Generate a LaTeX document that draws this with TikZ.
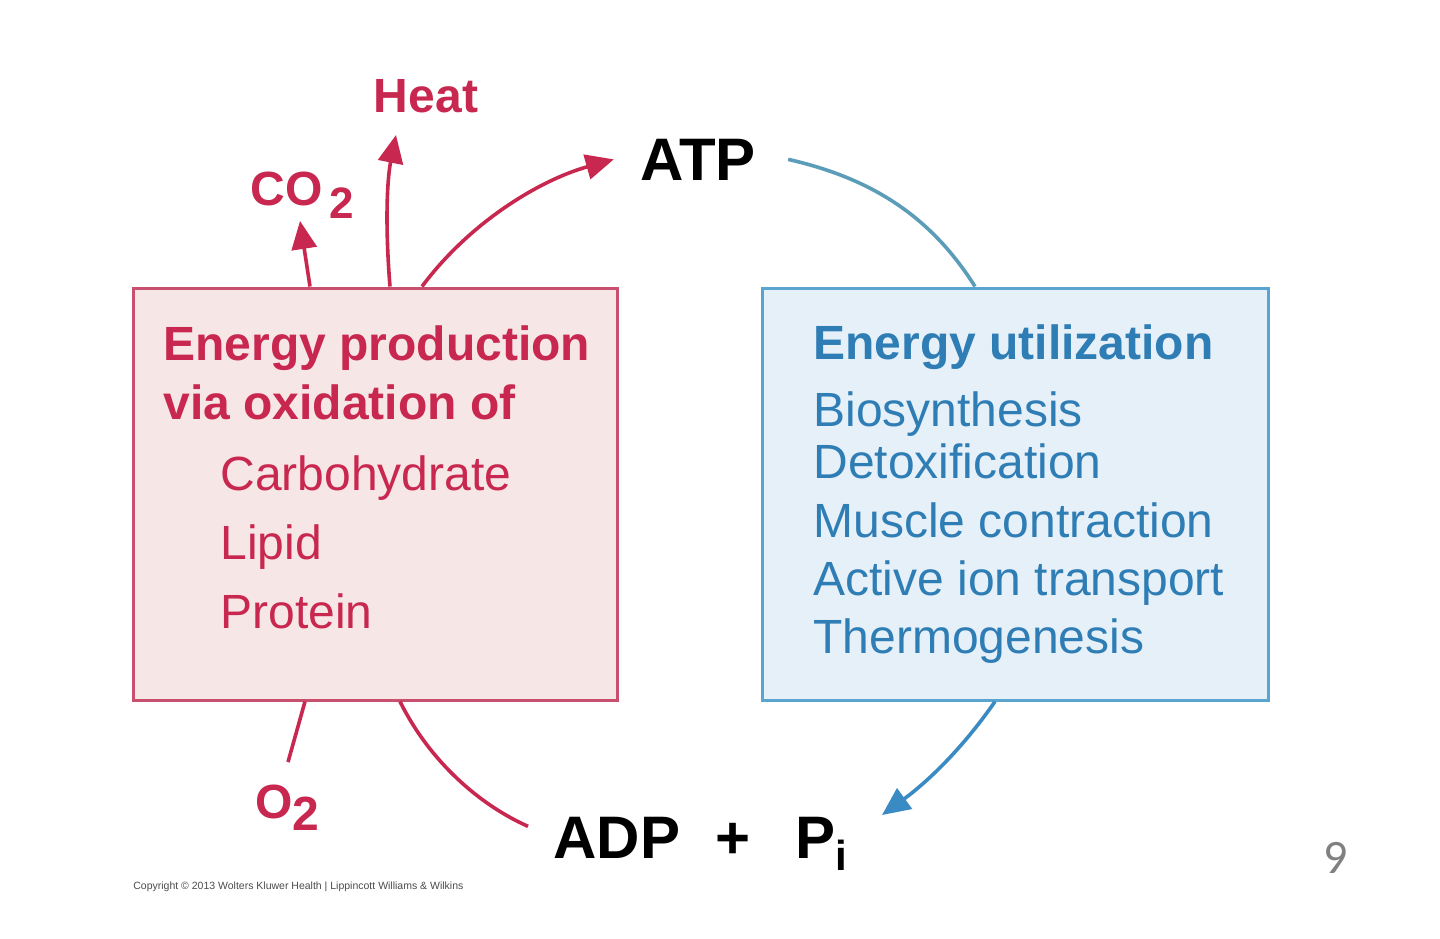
\documentclass[tikz,border=0pt]{standalone}
\usepackage{fontspec}
\setmainfont{Liberation Sans}
\newfontfamily\pagefont{Carlito}
\usetikzlibrary{arrows.meta}
\definecolor{prodred}{HTML}{C8284F}
\definecolor{prodfill}{HTML}{F7E6E6}
\definecolor{prodline}{HTML}{C8506E}
\definecolor{useblue}{HTML}{2F7DB5}
\definecolor{usefill}{HTML}{E6F0F8}
\definecolor{useline}{HTML}{5AA5CF}
\definecolor{curveblue}{HTML}{5B9DB8}
\definecolor{arrowblue}{HTML}{3A8AC4}
\definecolor{pagegray}{HTML}{808080}
\tikzset{
  txt/.style={inner sep=0pt, anchor=base west, font=\fontsize{24}{28}\selectfont},
  bigtxt/.style={inner sep=0pt, font=\fontsize{30}{34}\selectfont\bfseries, text=black},
  prodbox/.style={draw=prodline, fill=prodfill, line width=1.5pt, minimum width=242pt, minimum height=206pt, inner sep=0pt},
  usebox/.style={draw=useline, fill=usefill, line width=1.5pt, minimum width=253pt, minimum height=206pt, inner sep=0pt},
  redarr/.style={draw=prodred, line width=1.8pt, -{Triangle[length=14pt,width=12.5pt]}},
  redline/.style={draw=prodred, line width=1.8pt},
  blueline/.style={draw=curveblue, line width=1.8pt},
  bluearr/.style={draw=arrowblue, line width=1.8pt, -{Triangle[length=14pt,width=12.5pt]}}
}
\begin{document}
\begin{tikzpicture}[x=0.5pt,y=-0.5pt]
\useasboundingbox[fill=white] (0,0) rectangle (1440,938);

% boxes
\node[prodbox] (prod) at (375,494) {};
\node[usebox] (use) at (1015,494) {};

% left box text
\node[txt, text=prodred, font=\fontsize{24}{28}\selectfont\bfseries] (prodt1) at (163,360) {Energy production};
\node[txt, text=prodred, font=\fontsize{24}{28}\selectfont\bfseries] (prodt2) at (163,419) {via oxidation of};
\node[txt, text=prodred] (carb) at (220,490) {Carbohydrate};
\node[txt, text=prodred] (lipid) at (220,559) {Lipid};
\node[txt, text=prodred] (protein) at (220,628) {Protein};

% right box text
\node[txt, text=useblue, font=\fontsize{24}{28}\selectfont\bfseries] (uset) at (813,359) {Energy utilization};
\node[txt, text=useblue] (bio) at (813,426) {Biosynthesis};
\node[txt, text=useblue] (detox) at (813,478) {Detoxification};
\node[txt, text=useblue] (muscle) at (813,537) {Muscle contraction};
\node[txt, text=useblue] (active) at (813,595) {Active ion transport};
\node[txt, text=useblue] (thermo) at (813,653) {Thermogenesis};

% outer labels
\node[txt, anchor=base, text=prodred, font=\fontsize{24}{28}\selectfont\bfseries] (heat) at (426,112) {Heat};
\node[txt, text=prodred, font=\fontsize{24}{28}\selectfont\bfseries] (co2) at (250,205) {CO\hspace{3.5pt}\raisebox{-6.5pt}{\fontsize{22}{22}\selectfont 2}};
\node[txt, text=prodred, font=\fontsize{24}{28}\selectfont\bfseries] (o2) at (255,818) {O\raisebox{-6pt}{2}};
\node[bigtxt, anchor=base] (atp) at (698,180) {ATP};
\node[bigtxt, anchor=base west] (adp) at (553,858) {ADP};
\node[bigtxt, anchor=base] (plus) at (733,858) {+};
\node[bigtxt, anchor=base west] (pi) at (795,858) {P\raisebox{-6pt}{\fontsize{21}{21}\selectfont\bfseries i}};
\node[inner sep=0pt, anchor=base, text=pagegray, font=\pagefont\fontsize{24}{28}\selectfont] (page) at (1336,873) {9};
\node[inner sep=0pt, anchor=base west, text=black!70, font=\fontsize{5.25}{6}\selectfont] (copy) at (133,889) {Copyright © 2013 Wolters Kluwer Health | Lippincott Williams \& Wilkins};

% connector end points
\coordinate (co2foot) at (310,0);
\coordinate (co2tip) at (300,221);
\coordinate (heatfoot) at (390,0);
\coordinate (heattip) at (396,135);
\coordinate (atpfoot) at (422,0);
\coordinate (atpfootB) at (975,0);
\coordinate (o2foot) at (305,0);
\coordinate (adpfoot) at (400,0);
\coordinate (usefoot) at (995,0);
\coordinate (bluetip) at (882,815);

% red arrows from production box
\draw[redarr] (prod.north -| co2foot) -- (co2tip);
\draw[redarr] (prod.north -| heatfoot) .. controls (385,225) and (387,180) .. (heattip);
\draw[redarr] (prod.north -| atpfoot) .. controls (470,222) and (540,180) .. ([xshift=-13pt]atp.west);

% blue curve ATP -> use box
\draw[blueline] ([xshift=16pt,yshift=0pt]atp.east) .. controls (870,178) and (930,215) .. (use.north -| atpfootB);

% blue arrow use box -> ADP + Pi
\draw[bluearr] (use.south -| usefoot) .. controls (965,745) and (930,780) .. (bluetip);

% red lines at bottom
\draw[redline] (prod.south -| o2foot) -- ([xshift=16.5pt,yshift=11pt]o2.north west);
\draw[redline] (prod.south -| adpfoot) .. controls (430,762) and (480,805) .. ([xshift=-12.5pt,yshift=5.5pt]adp.west);
\end{tikzpicture}
\end{document}
